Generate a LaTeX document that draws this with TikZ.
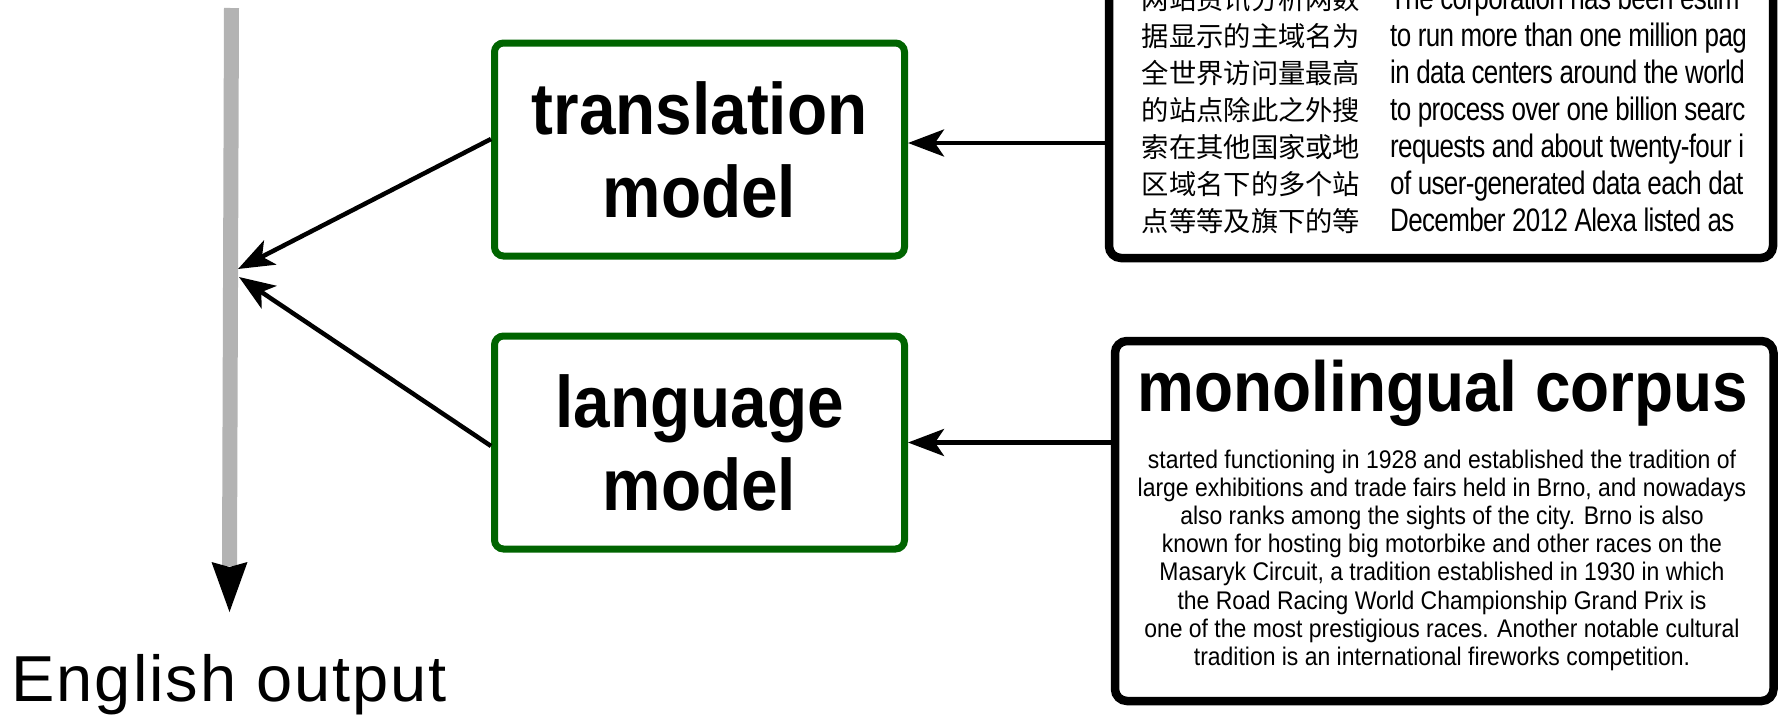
\documentclass[tikz,border=0pt]{standalone}
\usepackage{fontspec}
\setmainfont{Liberation Sans}
\newfontfamily\boxfont[FakeStretch=0.9]{Liberation Sans}
\newfontfamily\narrowfont[FakeStretch=0.8,LetterSpace=-2]{Liberation Sans}
\newfontfamily\widefont[LetterSpace=3]{Liberation Sans}
\newfontfamily\cjkfont{Noto Sans CJK SC}
\usetikzlibrary{arrows.meta}
\definecolor{boxgreen}{RGB}{0,100,0}
\definecolor{railgray}{RGB}{179,179,179}
\begin{document}
\begin{tikzpicture}[x=1pt,y=-1pt,
 modelbox/.style={draw=boxgreen, line width=7pt, rounded corners=9pt, minimum width=410pt, minimum height=213pt, align=center, inner sep=0pt, font=\boxfont\bfseries\fontsize{73}{83}\selectfont},
 corpusbox/.style={draw=black, line width=8.5pt, rounded corners=12pt, inner sep=0pt},
 arr/.style={draw=black, line width=4.5pt, -{Stealth[length=36pt,width=27pt,inset=9pt]}},
 cjkline/.style={anchor=base, inner sep=0pt, font=\cjkfont\fontsize{27.3}{37}\selectfont},
 enline/.style={anchor=base west, inner sep=0pt, font=\narrowfont\fontsize{32.5}{37}\selectfont},
 parline/.style={anchor=base, inner sep=0pt, font=\boxfont\fontsize{25.5}{28}\selectfont},
]
\useasboundingbox (0,0) rectangle (1781,721);
\clip (0,0) rectangle (1781,721);

\node[modelbox] (tm) at (699.5,149.5) {translation\\model};
\node[modelbox] (lm) at (699.5,442.5) {language\\model};

\node[corpusbox, minimum width=664pt, minimum height=330pt] (bil) at (1441,93) {};
\node[corpusbox, minimum width=658.5pt, minimum height=360pt] (mono) at (1444.25,521) {};

\foreach \t [count=\i from 0] in {网站资讯分析网数,据显示的主域名为,全世界访问量最高,的站点除此之外搜,索在其他国家或地,区域名下的多个站,点等等及旗下的等}
  \node[cjkline] (zh\i) at (1251, 9.5+37*\i) {\t};

\foreach \t [count=\i from 0] in {The corporation has been estim,to run more than one million pag,in data centers around the world,to process over one billion searc,requests and about twenty-four i,of user-generated data each dat,December 2012 Alexa listed as}
  \node[enline] (en\i) at (1390, 9.5+37*\i) {\t};

\node[anchor=base, inner sep=0pt, font=\boxfont\bfseries\fontsize{71}{80}\selectfont] (title) at (1443,411) {monolingual corpus};

\foreach \t [count=\i from 0] in {{started functioning in 1928 and established the tradition of},{large exhibitions and trade fairs held in Brno, and nowadays},{also ranks among the sights of the city. Brno is also},{known for hosting big motorbike and other races on the},{Masaryk Circuit, a tradition established in 1930 in which},{the Road Racing World Championship Grand Prix is},{one of the most prestigious races. Another notable cultural},{tradition is an international fireworks competition.}}
  \node[parline] (par\i) at (1442, 468+28.2*\i) {\t};

\node[anchor=base west, inner sep=0pt, font=\widefont\fontsize{65}{75}\selectfont] (out) at (11.4,701) {English output};

% output rail
\coordinate (rtop) at (231.5,8);
\coordinate (rbase) at (229.5,566);
\coordinate (rtip) at (229.5,612);
\coordinate (rl) at (211.5,562);
\coordinate (rr) at (247.5,562);
\draw[railgray, line width=15pt] (rtop) -- (rbase);
\fill[black] (rl) -- (rtip) -- (rr) -- (229.5,567) -- cycle;

% arrows into the rail
\coordinate (j1) at (238,269);
\coordinate (j2) at (239,277);
\draw[arr] ([yshift=10.5pt]tm.west) -- (j1);
\draw[arr] ([yshift=-3.5pt]lm.west) -- (j2);

% arrows from corpora
\coordinate (tmin) at ([yshift=6.5pt]tm.east);
\draw[arr] (tmin -| bil.west) -- (tmin);
\draw[arr] (lm.east -| mono.west) -- (lm.east);
\end{tikzpicture}
\end{document}
